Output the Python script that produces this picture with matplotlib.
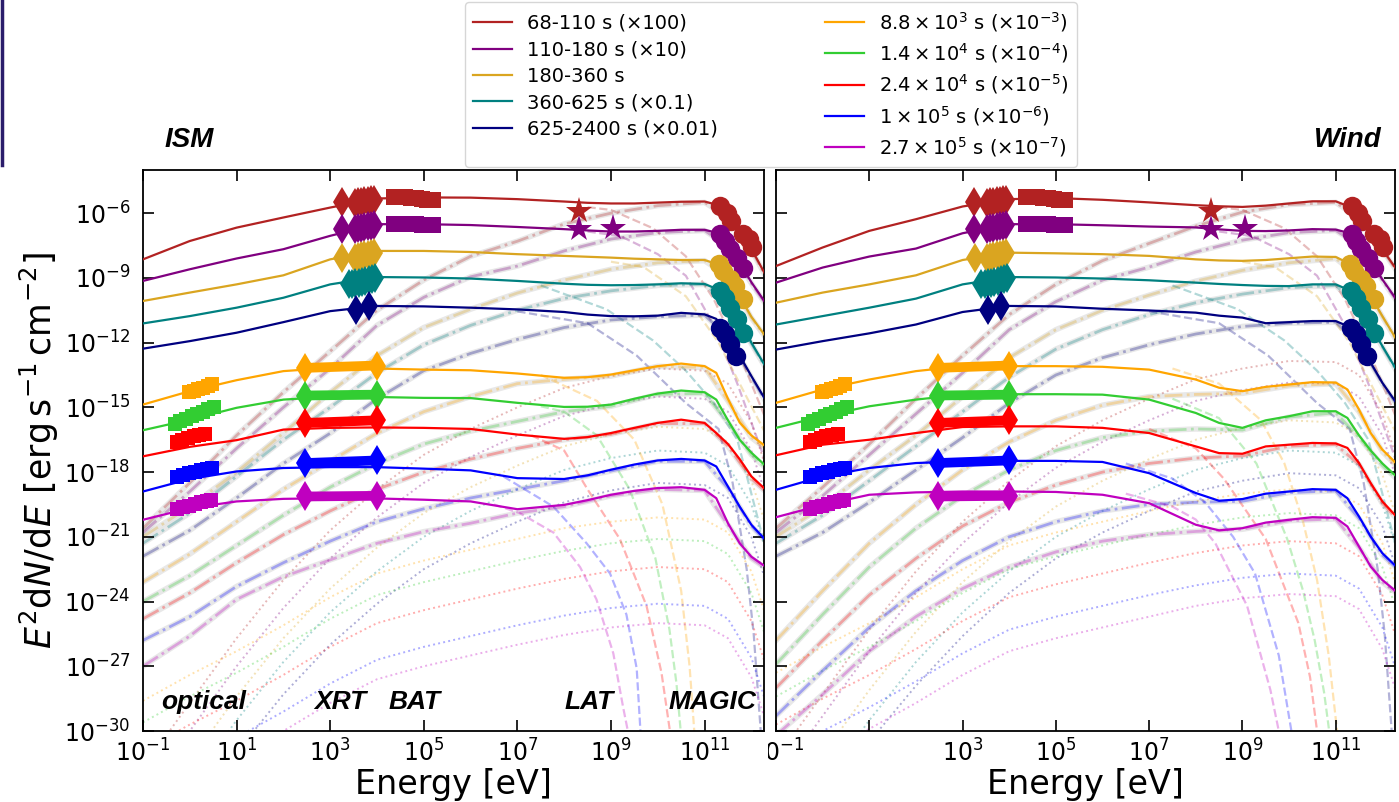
import numpy as np
import matplotlib
matplotlib.use('Agg')
import matplotlib.pyplot as plt
from matplotlib.lines import Line2D
from matplotlib.patches import Rectangle

# epochs, legend text and colours
labels = ['68-110 s (×100)', '110-180 s (×10)', '180-360 s', '360-625 s (×0.1)', '625-2400 s (×0.01)',
          r'$8.8\times10^{3}$ s ($\times10^{-3}$)', r'$1.4\times10^{4}$ s ($\times10^{-4}$)',
          r'$2.4\times10^{4}$ s ($\times10^{-5}$)', r'$1\times10^{5}$ s ($\times10^{-6}$)',
          r'$2.7\times10^{5}$ s ($\times10^{-7}$)']
colors = ['#b22222', '#800080', '#daa520', '#008080', '#000080',
          '#ffa500', '#32cd32', '#ff0000', '#0000ff', '#bf00bf']

# total model, log10(E^2 dN/dE) on a log10(E/eV) grid
loge_model = [-1, 0, 1, 2, 3, 4, 5, 6, 7, 8, 8.5, 9, 9.5, 10, 10.5, 11, 11.25, 11.5, 11.75, 12, 12.3]
ism_total = [
    [-8.14, -7.29, -6.67, -6.20, -5.74, -5.32, -5.27, -5.28, -5.35, -5.46, -5.52, -5.55, -5.55, -5.51, -5.47, -5.46, -5.60, -6.10, -6.75, -7.65, -8.85],
    [-9.14, -8.60, -8.10, -7.67, -7.05, -6.51, -6.51, -6.55, -6.64, -6.74, -6.80, -6.85, -6.85, -6.82, -6.77, -6.77, -6.90, -7.50, -8.30, -9.20, -10.15],
    [-10.07, -9.68, -9.30, -8.88, -8.14, -7.75, -7.75, -7.80, -7.90, -7.98, -8.02, -8.06, -8.11, -8.14, -8.17, -8.17, -8.35, -8.90, -9.85, -10.80, -11.70],
    [-11.11, -10.77, -10.38, -9.92, -9.30, -8.96, -8.98, -9.03, -9.14, -9.27, -9.32, -9.34, -9.33, -9.30, -9.25, -9.28, -9.50, -10.15, -10.90, -12.00, -13.10],
    [-12.28, -11.93, -11.54, -11.05, -10.54, -10.30, -10.32, -10.38, -10.46, -10.58, -10.70, -10.77, -10.78, -10.75, -10.62, -10.69, -10.90, -11.70, -12.60, -13.55, -14.65],
    [-14.87, -14.25, -13.74, -13.32, -13.17, -13.20, -13.25, -13.28, -13.43, -13.63, -13.60, -13.48, -13.28, -13.09, -12.97, -13.09, -13.40, -14.60, -15.70, -16.30, -16.80],
    [-16.06, -15.57, -15.02, -14.64, -14.51, -14.52, -14.56, -14.57, -14.79, -14.98, -14.97, -14.87, -14.60, -14.36, -14.22, -14.30, -14.64, -15.60, -16.50, -17.10, -17.70],
    [-17.27, -16.83, -16.52, -16.03, -15.95, -15.93, -15.95, -16.00, -16.26, -16.46, -16.38, -16.19, -15.95, -15.72, -15.57, -15.72, -16.19, -16.70, -17.40, -18.20, -18.80],
    [-18.90, -18.32, -17.97, -17.81, -17.77, -17.77, -17.84, -17.92, -18.28, -18.32, -18.15, -17.89, -17.65, -17.46, -17.39, -17.46, -17.74, -18.67, -19.60, -20.44, -21.14],
    [-20.21, -19.67, -19.36, -19.24, -19.21, -19.22, -19.28, -19.36, -19.72, -19.52, -19.30, -19.05, -18.87, -18.74, -18.70, -18.82, -19.21, -20.37, -21.30, -21.92, -22.38],
]
wind_total = [
    [-8.45, -7.59, -6.82, -6.28, -5.69, -5.35, -5.30, -5.38, -5.50, -5.63, -5.68, -5.71, -5.65, -5.55, -5.45, -5.45, -5.66, -6.20, -6.90, -7.67, -8.60],
    [-9.22, -8.52, -8.01, -7.64, -6.93, -6.51, -6.51, -6.56, -6.62, -6.66, -6.75, -6.82, -6.83, -6.80, -6.74, -6.76, -6.90, -7.44, -8.21, -9.07, -10.00],
    [-10.15, -9.68, -9.30, -8.88, -8.17, -7.83, -7.86, -7.90, -7.98, -8.14, -8.19, -8.21, -8.17, -8.09, -8.01, -8.03, -8.29, -8.91, -9.84, -10.77, -11.85],
    [-11.16, -10.77, -10.38, -9.96, -9.30, -8.96, -8.98, -9.03, -9.11, -9.22, -9.28, -9.33, -9.37, -9.38, -9.30, -9.30, -9.53, -10.31, -11.23, -12.16, -13.25],
    [-12.32, -11.93, -11.57, -11.16, -10.58, -10.30, -10.32, -10.43, -10.51, -10.61, -10.75, -10.84, -11.10, -11.05, -11.00, -11.00, -11.23, -12.00, -12.93, -13.86, -14.79],
    [-14.79, -14.17, -13.71, -13.32, -13.09, -13.09, -13.09, -13.12, -13.25, -13.71, -14.09, -14.25, -14.05, -13.94, -13.83, -13.85, -14.17, -15.10, -16.19, -16.96, -17.60],
    [-15.95, -15.41, -14.95, -14.64, -14.41, -14.39, -14.39, -14.41, -14.64, -15.26, -15.72, -15.95, -15.60, -15.41, -15.18, -15.18, -15.49, -16.30, -17.00, -17.60, -18.20],
    [-17.22, -16.73, -16.50, -16.19, -15.91, -15.88, -15.88, -15.95, -16.19, -16.81, -17.12, -17.15, -16.81, -16.73, -16.65, -16.67, -16.88, -17.58, -18.51, -19.36, -20.06],
    [-18.82, -18.20, -17.81, -17.58, -17.50, -17.48, -17.48, -17.53, -18.05, -18.97, -19.33, -19.25, -19.00, -18.90, -18.79, -18.82, -19.21, -20.06, -20.99, -21.76, -22.38],
    [-20.09, -19.52, -19.05, -18.94, -18.90, -18.90, -18.92, -19.05, -19.44, -20.44, -20.70, -20.60, -20.34, -20.21, -20.09, -20.12, -20.52, -21.45, -22.38, -23.00, -23.54],
]

# model components on a coarser grid
loge_comp = [-1, 0, 1, 2, 3, 4, 5, 6, 7, 8, 9, 10, 11, 11.5, 12, 12.3]
ism_ssc = [
    [-20.6, -18.5, -16.3, -14.3, -12.4, -10.5, -9.1, -8.0, -7.3, -6.5, -6.0, -5.65, -5.5, -6.2, -7.7, -8.9],
    [-20.8, -18.9, -16.9, -15.0, -13.2, -11.2, -9.9, -8.95, -8.45, -7.75, -7.2, -6.9, -6.8, -7.55, -9.25, -10.2],
    [-21.0, -19.6, -18.0, -16.2, -14.3, -12.6, -11.3, -10.45, -9.7, -9.1, -8.6, -8.3, -8.2, -8.95, -10.85, -11.75],
    [-21.3, -19.9, -18.2, -16.5, -15.0, -13.4, -12.1, -11.2, -10.5, -9.95, -9.6, -9.35, -9.3, -10.2, -12.05, -13.15],
    [-21.9, -20.7, -19.2, -17.6, -16.2, -14.6, -13.3, -12.5, -11.85, -11.3, -10.95, -10.8, -10.72, -11.75, -13.6, -14.7],
    [-23.1, -21.8, -20.3, -18.8, -17.5, -16.2, -15.2, -14.5, -13.9, -13.7, -13.55, -13.1, -13.15, -14.7, -16.4, -16.9],
    [-24.0, -22.8, -21.4, -20.0, -18.7, -17.6, -16.7, -16.1, -15.65, -15.2, -14.95, -14.4, -14.35, -15.7, -17.2, -17.8],
    [-24.8, -23.6, -22.2, -20.9, -19.8, -18.8, -18.0, -17.4, -16.9, -16.5, -16.25, -15.75, -15.75, -16.8, -18.3, -18.9],
    [-25.8, -24.7, -23.3, -22.2, -21.2, -20.3, -19.7, -19.2, -18.8, -18.4, -17.95, -17.5, -17.5, -18.75, -20.5, -21.2],
    [-27.0, -25.6, -23.9, -22.85, -22.07, -21.3, -20.76, -20.37, -19.9, -19.6, -19.1, -18.8, -18.85, -20.45, -22.0, -22.45],
]
wind_ssc = [
    [-20.6, -18.7, -16.7, -14.6, -12.6, -10.7, -9.3, -8.2, -7.4, -6.6, -5.95, -5.6, -5.5, -6.25, -7.7, -8.65],
    [-20.8, -19.1, -17.2, -15.3, -13.4, -11.4, -10.1, -9.1, -8.5, -7.8, -7.25, -6.9, -6.8, -7.5, -9.1, -10.05],
    [-21.0, -19.6, -17.9, -16.3, -14.5, -12.7, -11.4, -10.5, -9.8, -9.15, -8.65, -8.3, -8.1, -8.95, -10.8, -11.9],
    [-21.3, -20.0, -18.4, -16.8, -15.2, -13.6, -12.3, -11.4, -10.7, -10.15, -9.75, -9.45, -9.35, -10.35, -12.2, -13.3],
    [-21.9, -20.8, -19.4, -17.9, -16.4, -14.8, -13.5, -12.7, -12.1, -11.6, -11.25, -11.1, -11.05, -12.05, -13.9, -14.85],
    [-25.8, -23.5, -21.3, -19.5, -17.9, -16.6, -15.6, -14.9, -14.5, -14.4, -14.35, -14.0, -13.9, -15.2, -17.05, -17.7],
    [-26.9, -24.6, -22.4, -20.6, -19.1, -17.9, -17.0, -16.4, -16.1, -16.0, -16.05, -15.45, -15.25, -16.4, -17.7, -18.3],
    [-28.0, -25.8, -23.7, -22.0, -20.5, -19.4, -18.6, -18.0, -17.6, -17.35, -17.25, -16.8, -16.72, -17.65, -19.45, -20.15],
    [-29.3, -27.2, -25.2, -23.5, -22.1, -21.0, -20.3, -19.8, -19.5, -19.4, -19.35, -18.95, -18.87, -20.15, -21.85, -22.45],
    [-30.2, -28.3, -26.3, -24.7, -23.4, -22.4, -21.7, -21.2, -20.9, -20.75, -20.65, -20.25, -20.17, -21.5, -23.1, -23.6],
]
ism_dotted = [
    [-31.7, -28.7, -25.7, -23.0, -20.7, -18.8, -17.2, -16.0, -15.0, -14.1, -13.55, -13.2, -13.3, -13.9, -15.7, -17.7],
    [-33.0, -30.0, -27.0, -24.3, -22.0, -20.1, -18.5, -17.3, -16.3, -15.4, -14.85, -14.5, -14.6, -15.2, -17.0, -19.0],
    [-34.4, -31.4, -28.4, -25.7, -23.4, -21.5, -19.9, -18.7, -17.7, -16.8, -16.25, -15.9, -16.0, -16.6, -18.4, -20.4],
    [-35.5, -32.5, -29.5, -26.8, -24.5, -22.6, -21.0, -19.8, -18.8, -17.9, -17.35, -17.0, -17.1, -17.7, -19.5, -21.5],
    [-37.0, -34.0, -31.0, -28.3, -26.0, -24.1, -22.5, -21.3, -20.3, -19.4, -18.85, -18.5, -18.6, -19.2, -21.0, -23.0],
    [-28.6, -27.4, -26.3, -25.1, -23.8, -22.7, -22.1, -21.6, -21.1, -20.6, -20.3, -20.1, -20.2, -20.8, -22.6, -24.6],
    [-29.6, -28.4, -27.3, -26.1, -24.8, -23.7, -23.1, -22.6, -22.1, -21.65, -21.3, -21.1, -21.2, -21.8, -23.6, -25.6],
    [-30.9, -29.7, -28.6, -27.4, -26.1, -25.0, -24.4, -23.9, -23.4, -22.95, -22.6, -22.4, -22.5, -23.1, -24.9, -26.9],
    [-32.6, -31.4, -30.3, -29.1, -27.8, -26.7, -26.1, -25.6, -25.1, -24.65, -24.3, -24.1, -24.2, -24.8, -26.6, -28.6],
    [-33.5, -32.3, -31.2, -30.0, -28.7, -27.6, -27.0, -26.5, -26.0, -25.55, -25.2, -25.0, -25.1, -25.7, -27.5, -29.5],
]
wind_dotted = [
    [-31.3, -28.3, -25.3, -22.6, -20.3, -18.4, -16.8, -15.6, -14.6, -13.7, -13.2, -12.85, -12.9, -13.5, -15.3, -17.3],
    [-32.3, -29.3, -26.3, -23.6, -21.3, -19.4, -17.8, -16.6, -15.6, -14.7, -14.2, -13.85, -13.9, -14.5, -16.3, -18.3],
    [-34.1, -31.1, -28.1, -25.4, -23.1, -21.2, -19.6, -18.4, -17.4, -16.5, -15.95, -15.6, -15.7, -16.3, -18.1, -20.1],
    [-35.5, -32.5, -29.5, -26.8, -24.5, -22.6, -21.0, -19.8, -18.8, -17.9, -17.35, -17.0, -17.1, -17.7, -19.5, -21.5],
    [-36.5, -33.5, -30.5, -27.9, -25.6, -23.6, -22.0, -20.8, -19.8, -18.9, -18.4, -18.05, -18.15, -18.75, -20.5, -22.5],
    [-27.3, -26.1, -25.0, -23.8, -22.5, -21.4, -20.8, -20.3, -19.8, -19.35, -19.0, -18.8, -18.9, -19.5, -21.3, -23.3],
    [-28.4, -27.2, -26.1, -24.9, -23.6, -22.5, -21.9, -21.4, -20.9, -20.45, -20.1, -19.9, -20.0, -20.6, -22.4, -24.4],
    [-29.7, -28.5, -27.4, -26.2, -24.9, -23.8, -23.2, -22.7, -22.2, -21.75, -21.4, -21.2, -21.3, -21.9, -23.7, -25.7],
    [-31.2, -30.0, -28.9, -27.7, -26.4, -25.3, -24.7, -24.2, -23.7, -23.25, -22.9, -22.7, -22.8, -23.4, -25.2, -27.2],
    [-32.2, -31.0, -29.9, -28.7, -27.4, -26.3, -25.7, -25.2, -24.7, -24.2, -23.85, -23.65, -23.75, -24.35, -26.2, -28.2],
]

# synchrotron high-energy cutoffs (early epochs shared by both panels)
sync_early_e = [
    [8.5, 9.0, 9.9, 10.6, 11.2, 11.7, 12.3],
    [8.5, 9.2, 10.0, 10.6, 11.2, 11.7, 12.3],
    [9.0, 9.7, 10.6, 11.3, 11.75, 12.3],
    [7.5, 8.9, 9.9, 10.6, 11.2, 11.7, 12.0, 12.3],
    [7.0, 8.5, 9.55, 10.6, 11.3, 11.6, 11.9, 12.05, 12.2],
]
sync_early_f = [
    [-5.72, -5.85, -6.7, -8.0, -10.0, -12.3, -15.5],
    [-6.85, -7.06, -7.9, -8.9, -11.2, -13.9, -17.5],
    [-8.25, -8.5, -9.85, -12.0, -13.9, -16.2],
    [-9.35, -10.45, -11.9, -13.3, -14.8, -16.5, -19.0, -21.5],
    [-10.55, -11.1, -12.6, -14.8, -16.0, -18.5, -22.5, -25.5, -30.0],
]
ism_sync_late_e = [
    [7.5, 8.7, 9.5, 10.1, 10.5, 10.68, 10.78],
    [7.5, 8.0, 8.7, 9.4, 9.95, 10.25, 10.4, 10.49],
    [7.3, 8.0, 8.5, 9.19, 9.76, 10.08, 10.26],
    [6.7, 7.77, 8.48, 8.98, 9.33, 9.55, 9.63],
    [6.5, 7.05, 7.77, 8.34, 8.69, 9.05, 9.26, 9.37],
]
ism_sync_late_f = [
    [-13.5, -14.7, -16.5, -19.5, -23.5, -27.0, -30.0],
    [-14.95, -15.2, -16.3, -18.8, -22.0, -25.3, -27.8, -30.0],
    [-16.3, -17.0, -18.8, -21.1, -24.2, -27.3, -30.0],
    [-18.2, -19.6, -21.3, -22.7, -24.6, -27.1, -30.0],
    [-19.5, -19.9, -20.8, -22.4, -23.9, -26.4, -28.9, -30.1],
]
wind_sync_late_e = [
    [7.5, 8.5, 9.4, 9.9, 10.3, 10.6, 10.85, 11.03],
    [7.5, 8.5, 9.3, 9.96, 10.3, 10.55, 10.75, 10.86],
    [7.0, 8.0, 8.6, 9.5, 10.2, 10.45, 10.6],
    [6.5, 7.5, 8.2, 8.8, 9.27, 9.78, 10.05],
    [6.5, 7.5, 8.0, 8.42, 9.1, 9.6, 9.78],
]
wind_sync_late_f = [
    [-13.2, -13.9, -15.6, -17.6, -20.3, -23.0, -26.5, -30.0],
    [-14.6, -15.5, -17.6, -21.1, -23.5, -25.8, -28.2, -30.0],
    [-16.0, -16.9, -18.3, -21.1, -25.0, -27.5, -30.0],
    [-17.6, -18.3, -19.4, -21.0, -22.7, -26.5, -30.0],
    [-19.0, -19.6, -20.2, -21.3, -24.2, -28.1, -30.0],
]

# observations (log10 E, log10 flux)
xrt_e = [[3.25, 3.52, 3.59, 3.66, 3.73, 3.80, 3.87, 3.94],
         [3.25, 3.52, 3.59, 3.66, 3.73, 3.80, 3.87, 3.94],
         [3.26, 3.52, 3.59, 3.66, 3.73, 3.80, 3.87, 3.94],
         [3.40, 3.47, 3.54, 3.61, 3.68, 3.75, 3.82, 3.89, 3.96],
         [3.55, 3.83],
         [2.47, 4.0], [2.47, 4.0], [2.47, 4.0], [2.47, 4.0], [2.47, 4.0]]
xrt_f = [[-5.47, -5.53, -5.50, -5.48, -5.45, -5.43, -5.40, -5.38],
         [-6.74, -6.72, -6.70, -6.67, -6.64, -6.61, -6.58, -6.55],
         [-8.06, -8.08, -8.03, -8.00, -7.96, -7.93, -7.90, -7.86],
         [-9.30, -9.28, -9.25, -9.22, -9.18, -9.14, -9.10, -9.05, -9.00],
         [-10.51, -10.31],
         [-13.17, -13.06], [-14.45, -14.41], [-15.72, -15.60], [-17.58, -17.46], [-19.13, -19.10]]
bat_e = [4.37, 4.49, 4.60, 4.72, 4.84, 4.96, 5.07, 5.19]
bat_f = [[-5.27, -5.26, -5.27, -5.28, -5.28, -5.32, -5.37, -5.38],
         [-6.51, -6.50, -6.51, -6.51, -6.52, -6.54, -6.56, -6.55]]
lat_e = [[8.32], [8.32, 9.05]]
lat_f = [[-5.89], [-6.74, -6.67]]
magic_e = [[11.34, 11.47, 11.56, 11.83, 11.94, 12.01],
           [11.34, 11.44, 11.55, 11.69, 11.83],
           [11.30, 11.40, 11.55, 11.65, 11.83],
           [11.32, 11.44, 11.55, 11.69, 11.83],
           [11.32, 11.44, 11.55, 11.68]]
magic_f = [[-5.66, -5.97, -6.36, -6.98, -7.21, -7.59],
           [-6.98, -7.29, -7.67, -8.06, -8.52],
           [-8.37, -8.68, -9.07, -9.38, -9.99],
           [-9.61, -9.92, -10.38, -10.92, -11.54],
           [-11.31, -11.62, -12.08, -12.63]]
opt_e = [[-0.02, 0.08, 0.18, 0.28, 0.38, 0.48],
         [-0.32, -0.20, -0.08, 0.04, 0.16, 0.28, 0.40, 0.52],
         [-0.28, -0.16, -0.04, 0.08, 0.20, 0.32],
         [-0.28, -0.15, -0.02, 0.11, 0.24, 0.37, 0.48],
         [-0.28, -0.15, -0.02, 0.11, 0.24, 0.37, 0.46]]
opt_f = [[-14.30, -14.24, -14.17, -14.08, -14.00, -13.94],
         [-15.75, -15.65, -15.52, -15.41, -15.30, -15.20, -15.08, -14.98],
         [-16.62, -16.52, -16.43, -16.35, -16.28, -16.22],
         [-18.25, -18.15, -18.05, -17.98, -17.90, -17.85, -17.82],
         [-19.72, -19.63, -19.55, -19.48, -19.40, -19.34, -19.30]]


def p(v):
    return 10.0 ** np.asarray(v, dtype=float)


def draw_panel(ax, total, ssc, dotted, late_e, late_f):
    sync_e = sync_early_e + late_e
    sync_f = sync_early_f + late_f
    for i, c in enumerate(colors):
        ax.plot(p(loge_comp), p(dotted[i]), ls=':', color=c, lw=1.4, alpha=0.32, zorder=1)
        ax.plot(p(loge_comp), p(ssc[i]), color='grey', lw=4, alpha=0.18, zorder=1)
        ax.plot(p(loge_comp), p(ssc[i]), ls='-.', color=c, lw=2, alpha=0.3, zorder=1)
        ax.plot(p(sync_e[i]), p(sync_f[i]), ls='--', color=c, lw=1.6, alpha=0.3, zorder=1)
        ax.plot(p(loge_model), p(total[i]), color=c, lw=1.6, zorder=3)

    # X-ray: early epochs as diamonds, late epochs as bars
    for i, c in enumerate(colors):
        if i < 5:
            ax.plot(p(xrt_e[i]), p(xrt_f[i]), 'd', color=c, ms=15, mew=0, zorder=5)
        else:
            ax.plot(p(xrt_e[i]), p(xrt_f[i]), '-d', color=c, lw=7, ms=15, mew=0, zorder=5)
    for i in range(2):
        ax.plot(p(bat_e), p(bat_f[i]), 's', color=colors[i], ms=11, mew=0, zorder=5)
        ax.plot(p(lat_e[i]), p(lat_f[i]), '*', color=colors[i], ms=20, mew=0, zorder=5)
    for i in range(5):
        ax.plot(p(magic_e[i]), p(magic_f[i]), 'o', color=colors[i], ms=14, mew=0, zorder=5)
        ax.plot(p(opt_e[i]), p(opt_f[i]), 's', color=colors[i + 5], ms=10, mew=0, zorder=5)

    ax.set_xscale('log')
    ax.set_yscale('log')
    ax.set_xlim(1e-1, 10 ** 12.27)
    ax.set_ylim(1e-30, 1e-4)
    ax.set_xticks(p(np.arange(-1, 12, 2)))
    ax.set_yticks(p(np.arange(-30, -5, 3)))
    ax.minorticks_off()
    ax.tick_params(direction='in', length=8, width=1.2, top=True, right=True, labelsize=17)
    ax.tick_params(axis='y', pad=9)
    ax.tick_params(axis='x', pad=6)
    for s in ax.spines.values():
        s.set_linewidth(1.3)
    ax.set_xlabel('Energy [eV]', fontsize=24, labelpad=1)


fig = plt.figure(figsize=(13.99, 8.02), dpi=100)
ax_ism = fig.add_axes([0.1022, 0.0885, 0.4439, 0.6995])
ax_wind = fig.add_axes([0.5547, 0.0885, 0.4424, 0.6995])

draw_panel(ax_ism, ism_total, ism_ssc, ism_dotted, ism_sync_late_e, ism_sync_late_f)
draw_panel(ax_wind, wind_total, wind_ssc, wind_dotted, wind_sync_late_e, wind_sync_late_f)

ax_ism.set_ylabel(r'$E^2\mathrm{d}N/\mathrm{d}E\ [\mathrm{erg\,s^{-1}\,cm^{-2}}]$', fontsize=25, labelpad=2)
ax_wind.tick_params(labelleft=False)
ax_wind.set_xticklabels([r'$\mathdefault{10^{-1}}$', '', r'$\mathdefault{10^{3}}$', r'$\mathdefault{10^{5}}$',
                         r'$\mathdefault{10^{7}}$', r'$\mathdefault{10^{9}}$', r'$\mathdefault{10^{11}}$'])

band_font = dict(family='Liberation Sans', weight='bold', style='italic', fontsize=19, ha='center', va='center')
for name, x in [('optical', 0.3), ('XRT', 3.22), ('BAT', 4.8), ('LAT', 8.53), ('MAGIC', 11.16)]:
    ax_ism.text(10 ** x, 10 ** -28.67, name, zorder=6, **band_font)

fig.text(165 / 1399, 1 - 140 / 802, 'ISM', family='Liberation Sans', weight='bold', style='italic',
         fontsize=20, ha='left', va='center')
fig.text(1382 / 1399, 1 - 140 / 802, 'Wind', family='Liberation Sans', weight='bold', style='italic',
         fontsize=20, ha='right', va='center')

handles = [Line2D([], [], color=c, lw=1.6) for c in colors]
fig.legend(handles, labels, loc='upper left', bbox_to_anchor=(465 / 1399, 1 - 2 / 802), ncol=2,
           fontsize=14, columnspacing=5.5, labelspacing=0.38, handlelength=2.0, borderaxespad=0)

# edge strip and the clipped label at the panel seam
fig.add_artist(Line2D([0.0012, 0.0012], [1, 1 - 165 / 802], color='#2b1d6b', lw=2.5))
fig.add_artist(Rectangle((748 / 1399, 1 - 780 / 802), 20 / 1399, 42 / 802, transform=fig.transFigure,
                         facecolor='white', edgecolor='none', zorder=10))

fig.savefig('out.png', dpi=100)
